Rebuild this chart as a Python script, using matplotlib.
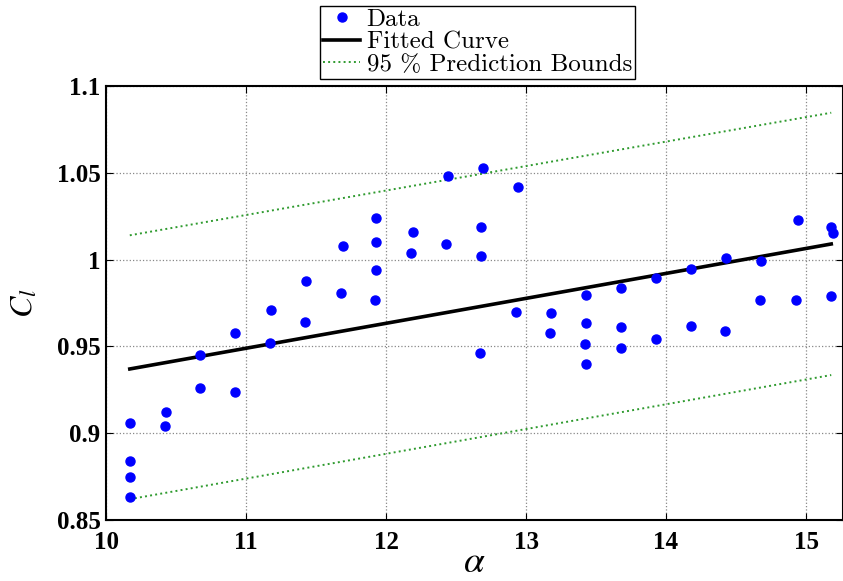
import matplotlib
matplotlib.use('Agg')
from matplotlib import pyplot as plt

# Measured data (angle of attack vs lift coefficient)
alpha = [10.17, 10.17, 10.17, 10.17,
         10.43, 10.42,
         10.67, 10.67,
         10.92, 10.92,
         11.18, 11.17,
         11.43, 11.42,
         11.69, 11.68,
         11.93, 11.93, 11.93, 11.92,
         12.19, 12.18,
         12.44, 12.43,
         12.69, 12.68, 12.68, 12.67,
         12.94, 12.93,
         13.18, 13.17,
         13.43, 13.43, 13.42, 13.43,
         13.68, 13.68, 13.68,
         13.93, 13.93,
         14.18, 14.18,
         14.43, 14.42,
         14.68, 14.67,
         14.94, 14.93,
         15.18, 15.19, 15.18]
cl = [0.906, 0.884, 0.875, 0.863,
      0.912, 0.904,
      0.945, 0.926,
      0.958, 0.924,
      0.971, 0.952,
      0.9875, 0.964,
      1.008, 0.981,
      1.024, 1.010, 0.994, 0.977,
      1.0157, 1.004,
      1.048, 1.009,
      1.053, 1.0186, 1.002, 0.946,
      1.042, 0.970,
      0.969, 0.958,
      0.9796, 0.9637, 0.9516, 0.940,
      0.9836, 0.961, 0.949,
      0.9896, 0.9545,
      0.9944, 0.9618,
      1.001, 0.959,
      0.999, 0.977,
      1.0228, 0.9765,
      1.0188, 1.0155, 0.979]

# Linear fit and prediction bounds (end points)
fit_alpha = [10.17, 15.18]
fit_cl = [0.937, 1.009]
upper_cl = [1.014, 1.0846]
lower_cl = [0.862, 0.9335]

plt.rcParams['font.family'] = ['Liberation Serif', 'DejaVu Serif']
plt.rcParams['mathtext.fontset'] = 'stix'

fig = plt.figure(figsize=(8.43, 5.81), dpi=100)
ax = fig.add_axes([106 / 843, 1 - 520 / 581, 1 - 106 / 843, (520 - 86) / 581])

ax.plot(alpha, cl, 'o', color='#0000ff', markersize=6.5, label='Data', zorder=3)
ax.plot(fit_alpha, fit_cl, '-', color='black', linewidth=2.6, label='Fitted Curve')
ax.plot(fit_alpha, upper_cl, ':', color='#2e9a2e', linewidth=1.4,
        label='95 % Prediction Bounds')
ax.plot(fit_alpha, lower_cl, ':', color='#2e9a2e', linewidth=1.4)

ax.set_xlim(10, 15.264)
ax.set_ylim(0.85, 1.1)
ax.set_xticks([10, 11, 12, 13, 14, 15])
ax.set_yticks([0.85, 0.9, 0.95, 1.0, 1.05, 1.1])
ax.set_yticklabels(['0.85', '0.9', '0.95', '1', '1.05', '1.1'])
ax.grid(True, linestyle=':', color='#888888', linewidth=0.9)
ax.tick_params(direction='in', length=5, width=0.8, top=True, right=True,
               labelsize=18)
ax.tick_params(axis='x', pad=8)
ax.tick_params(axis='y', pad=4)
for lab in ax.get_xticklabels() + ax.get_yticklabels():
    lab.set_fontweight('bold')
for sp in ax.spines.values():
    sp.set_linewidth(1.5)

ax.set_xlabel(r'$\alpha$', fontsize=27, labelpad=-6)
ax.set_ylabel(r'$C_l$', fontsize=23, labelpad=12)

leg = fig.legend(loc='upper center', bbox_to_anchor=(477.5 / 843, 1 - 6 / 581),
                 prop={'family': 'cmr10', 'size': 18},
                 handlelength=1.5, handletextpad=0.25, labelspacing=0.0,
                 borderpad=0.1, borderaxespad=0.0, fancybox=False,
                 edgecolor='black', framealpha=1, numpoints=1)
leg.get_frame().set_linewidth(1.0)

plt.savefig('out.png', dpi=100)
